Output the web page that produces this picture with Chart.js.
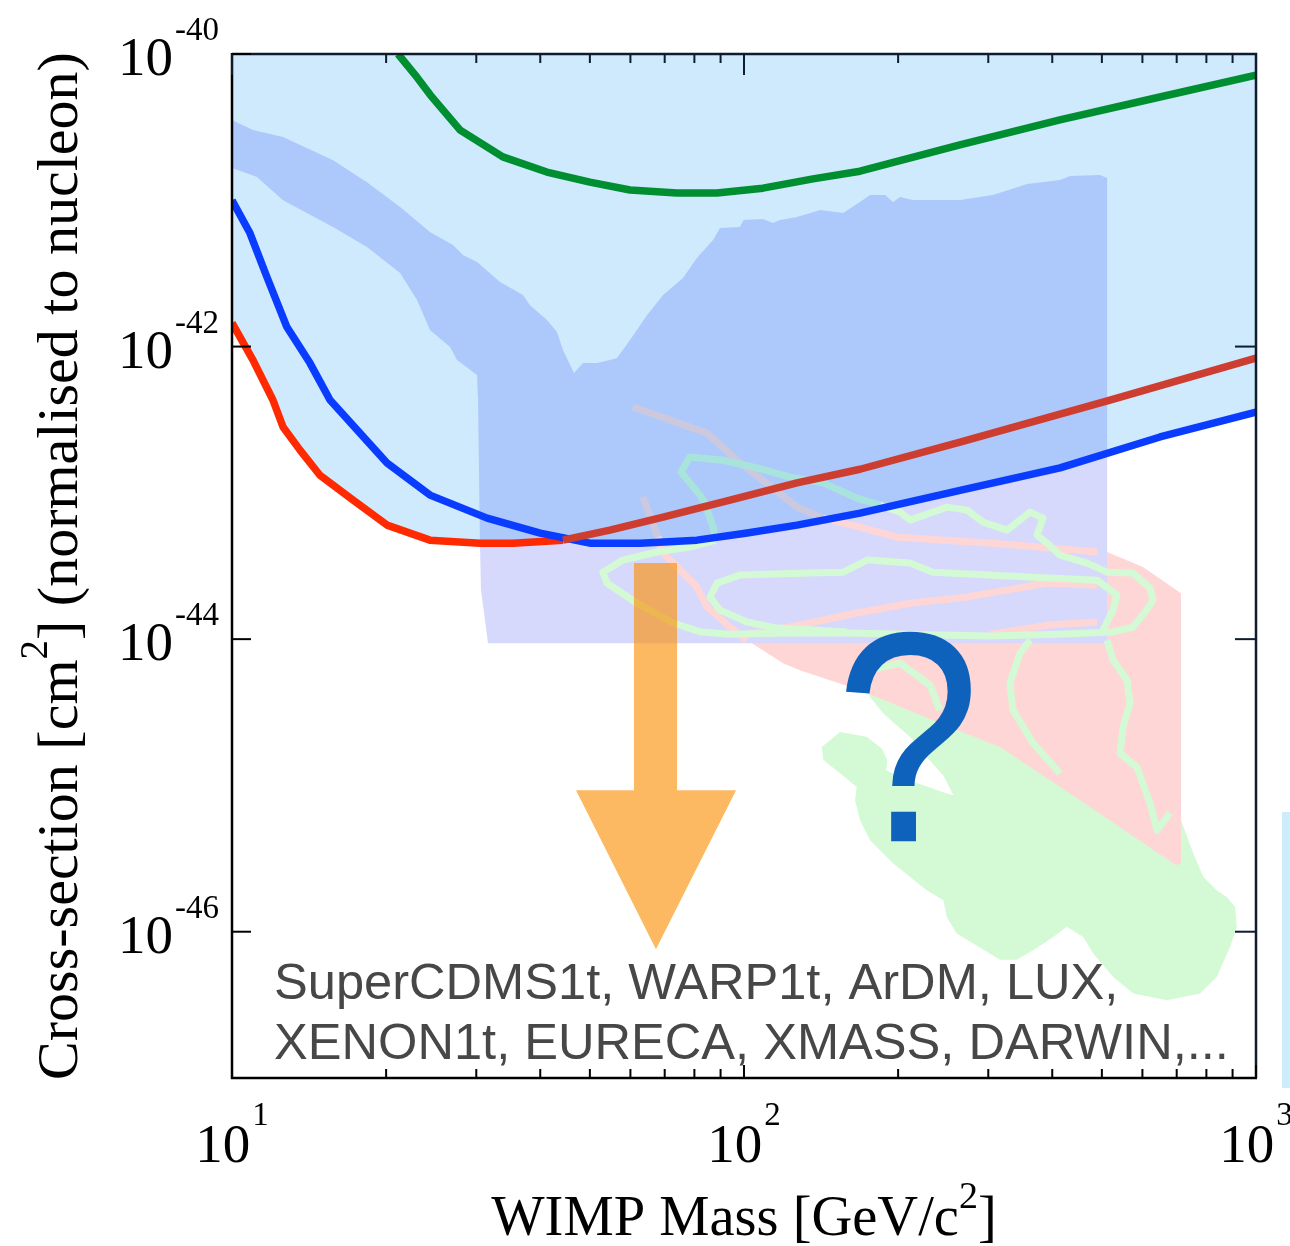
<!DOCTYPE html>
<html><head><meta charset="utf-8">
<script src="https://cdn.jsdelivr.net/npm/chart.js@4.4.1/dist/chart.umd.min.js"></script>
<style>
html,body{margin:0;padding:0;background:#fff;overflow:hidden}
#wrap{position:relative;width:1290px;height:1246px}
#strip{position:absolute;left:1282px;top:812px;width:8px;height:276px;background:#cdedfc}
</style></head>
<body><div id="wrap"><canvas id="c" width="1290" height="1246"></canvas><div id="strip"></div></div>
<script>
// ---------- tick labels ----------
const massTicks = [10, 100, 1000];
const massTickExp = ['1', '2', '3'];
const massMinorTicks = [20, 30, 40, 50, 60, 70, 80, 90, 200, 300, 400, 500, 600, 700, 800, 900];
const sigmaTicks = [1e-40, 1e-42, 1e-44, 1e-46];
const sigmaTickExp = ['-40', '-42', '-44', '-46'];

const X_TITLE = ['WIMP Mass [GeV/c', '2', ']'];
const Y_TITLE = ['Cross-section [cm', '2', '] (normalised to nucleon)'];
const EXPERIMENT_LINES = ['SuperCDMS1t, WARP1t, ArDM, LUX,', 'XENON1t, EURECA, XMASS, DARWIN,...'];
const QUESTION = '?';

// ---------- limit curves [mass GeV/c2, cross-section cm2] ----------
const greenLimit = [[21.1,1.0e-40],[22.8,7.18e-41],[24.4,5.24e-41],[27.9,3.02e-41],[33.8,1.98e-41],[41.2,1.56e-41],[50.0,1.33e-41],[59.9,1.175e-41],[74.0,1.12e-41],[88.5,1.12e-41],[108.9,1.21e-41],[136.4,1.40e-41],[168.5,1.58e-41],[264,2.39e-41],[414,3.54e-41],[649,5.08e-41],[1000,7.18e-41]];
const redLimitLow = [[10,1.45e-42],[10.99,8.08e-43],[12.02,4.31e-43],[12.58,2.82e-43],[13.58,1.96e-43],[14.85,1.32e-43],[17.23,8.92e-44],[20.08,6.02e-44],[24.36,4.75e-44],[30.5,4.53e-44],[35.4,4.53e-44],[44.3,4.75e-44]];
const redLimitHigh = [[44.3,4.75e-44],[54.7,5.56e-44],[69.5,6.83e-44],[93.9,8.92e-44],[126.9,1.17e-43],[168.5,1.45e-43],[264.2,2.22e-43],[518.6,4.31e-43],[1000,8.35e-43]];
const blueLimit = [[10,1.0e-41],[10.84,5.97e-42],[11.7,2.99e-42],[12.8,1.36e-42],[14.2,7.71e-43],[15.54,4.31e-43],[20.08,1.60e-43],[24.36,9.65e-44],[31.5,6.72e-44],[40.0,5.31e-44],[50.0,4.53e-44],[62.7,4.53e-44],[80.9,4.75e-44],[101.4,5.31e-44],[126.9,6.02e-44],[168.5,7.27e-44],[264.2,1.04e-43],[414.2,1.48e-43],[649.4,2.41e-43],[1000,3.57e-43]];

// ---------- signal / allowed region (blue) ----------
const damaTopEdge = [[10,3.54e-41],[10.99,3.02e-41],[12.58,2.71e-41],[15.75,1.88e-41],[18.35,1.33e-41],[21.3,8.99e-42],[24.36,6.07e-42],[27.02,4.94e-42],[28.26,4.22e-42],[30.1,3.78e-42],[33.38,2.76e-42],[37.02,2.25e-42],[38.19,1.92e-42],[41.23,1.52e-42],[43.13,1.26e-42],[44.3,9.47e-43],[46.56,6.59e-43],[48.48,7.71e-43],[51.64,7.71e-43],[54.7,8.08e-43],[56.49,8.35e-43],[59.9,1.11e-42],[64.64,1.64e-42],[69.5,2.25e-42],[76.0,2.94e-42],[80.9,4.03e-42],[87.0,5.35e-42],[89.8,6.46e-42],[98.2,6.57e-42],[99.8,7.33e-42],[108.9,7.45e-42],[113.9,6.99e-42],[117.6,7.33e-42],[126.9,7.68e-42],[140.8,8.58e-42],[156.2,8.18e-42],[168.5,9.73e-42],[176.3,1.086e-41],[188.6,1.086e-41],[195.5,9.73e-42],[201.7,1.052e-41],[213.8,1.004e-41],[264.2,1.004e-41],[306.4,1.086e-41],[357.1,1.291e-41],[414.2,1.375e-41],[433.2,1.464e-41],[495.8,1.488e-41]];
const damaRightEdge = [[512,1.42e-41],[512,1.87e-43],[512,9.39e-45]];
const damaBottomEdge = [[31.62,9.39e-45],[31.2,1.35e-44],[30.64,2.16e-44]];
const damaBandLower = [[30.24,4.31e-43],[30.1,6.39e-43],[27.51,8.08e-43],[26.66,9.92e-43],[24.36,1.30e-42],[22.98,2.08e-42],[21.3,3.18e-42],[18.35,4.79e-42],[15.75,6.57e-42],[12.58,1.0e-41],[11.19,1.44e-41],[10,1.66e-41]];

// ---------- pink region + outlines ----------
const pinkRegion = [[60.7,3.86e-43],[84.7,2.56e-43],[96.9,1.67e-43],[126.9,7.99e-44],[168.5,5.83e-44],[199.0,4.98e-44],[306.4,4.53e-44],[480.4,3.94e-44],[512,3.94e-44],[601.6,3.11e-44],[713.8,2.06e-44],[713.8,2.94e-46],[698.1,2.85e-46],[453.2,7.93e-46],[316.2,1.83e-45],[252.6,2.50e-45],[168.5,4.48e-45],[128.6,6.14e-45],[119.2,6.85e-45],[101.4,9.84e-45],[93.9,1.21e-44],[84.7,1.66e-44],[80.9,2.27e-44],[69.5,3.87e-44],[67.9,4.98e-44],[63.5,9.35e-44]];
const pinkLineUpperHidden = [[60.7,3.86e-43],[84.7,2.56e-43],[96.9,1.67e-43],[126.9,7.99e-44],[142.7,6.72e-44]];
const pinkLineUpper = [[142.7,6.72e-44],[168.5,5.83e-44],[199.0,4.98e-44],[306.4,4.53e-44],[489.2,3.94e-44]];
const pinkLineLowerHidden = [[63.5,9.35e-44],[67.9,4.98e-44]];
const pinkLineLower = [[67.9,4.98e-44],[69.5,3.87e-44],[80.9,2.27e-44],[84.7,1.66e-44],[93.9,1.21e-44],[101.4,9.84e-45]];
const pinkLineInner = [[99.5,1.07e-44],[123.0,1.21e-44],[166.2,1.51e-44],[210.9,1.76e-44],[272.6,1.94e-44],[390.8,2.42e-44],[489.2,2.34e-44]];
const pinkLineWedge = [[302.4,1.08e-44],[396.0,1.25e-44],[489.2,1.31e-44]];

// ---------- green region + contours ----------
const greenContourOuterHidden = [[88.1,4.75e-44],[87.0,5.83e-44],[83.9,8.51e-44],[82.1,9.65e-44],[75.3,1.39e-43],[78.4,1.76e-43],[91.0,1.67e-43],[106.0,1.48e-43],[123.0,1.28e-43],[142.7,1.17e-43],[166.2,9.21e-44],[184.4,8.25e-44]];
const greenContourOuter = [[184.4,8.25e-44],[201.7,7.39e-44],[210.9,6.51e-44],[249.2,7.99e-44],[272.6,7.62e-44],[293.1,6.31e-44],[326.5,5.56e-44],[362.0,7.39e-44],[383.7,6.72e-44],[373.5,5.14e-44],[390.8,4.53e-44],[414.2,3.75e-44],[467.7,3.31e-44],[512,2.87e-44],[575.2,2.83e-44],[620.9,2.23e-44],[629.3,1.85e-44],[607.1,1.53e-44],[575.2,1.21e-44],[525.6,1.12e-44],[414.2,1.08e-44],[302.4,1.05e-44],[158.9,1.10e-44],[123.0,1.10e-44],[93.9,1.08e-44],[82.1,1.12e-44],[72.7,1.29e-44],[61.8,1.76e-44],[54.0,2.42e-44],[53.0,2.87e-44],[58.0,3.47e-44],[67.6,3.94e-44],[78.4,4.26e-44],[88.1,4.75e-44]];
const greenContourInner = [[158.9,1.12e-44],[116.0,1.19e-44],[101.4,1.31e-44],[89.8,1.58e-44],[85.8,1.94e-44],[88.6,2.42e-44],[98.2,2.74e-44],[134.6,2.83e-44],[156.2,2.87e-44],[173.9,3.47e-44],[210.9,3.31e-44],[233.9,2.87e-44],[366.9,2.65e-44],[489.2,2.53e-44],[535.2,2.00e-44],[525.6,1.58e-44],[502.4,1.15e-44]];
const greenContourC = [[362.0,9.84e-45],[346.0,8.02e-45],[330.7,5.00e-45],[335.2,3.27e-45],[366.9,1.95e-45],[414.2,1.21e-45]];
const greenContourD = [[512,9.84e-45],[525.6,7.19e-45],[559.8,5.25e-45],[567.5,3.65e-45],[549.9,2.50e-45],[542.5,1.66e-45],[585.6,1.33e-45],[620.9,7.56e-46],[640.7,4.94e-46],[679.2,6.46e-46]];
const greenContourE = [[176.3,6.14e-45],[201.7,6.85e-45],[230.8,4.85e-45],[241.4,3.27e-45]];
const greenRegion = [[141.9,1.83e-45],[154.0,2.32e-45],[173.6,2.15e-45],[185.8,1.79e-45],[190.5,1.49e-45],[189.4,1.27e-45],[201.7,1.14e-45],[248.9,8.81e-46],[256.4,8.58e-46],[245.1,1.17e-45],[227.4,1.57e-45],[210.9,2.15e-45],[187.1,3.10e-45],[176.3,4.03e-45],[173.6,4.60e-45],[316.2,2.79e-45],[426.8,1.49e-45],[669.2,7.93e-46],[713.8,5.79e-46],[754.4,3.42e-46],[789.2,2.37e-46],[837.9,1.92e-46],[876.5,1.73e-46],[910.0,1.48e-46],[917.1,1.08e-46],[889.8,7.87e-47],[837.9,4.91e-47],[777.5,3.78e-47],[669.2,3.40e-47],[576.0,3.78e-47],[526.3,4.91e-47],[481.1,7.09e-47],[459.9,9.21e-47],[426.8,1.08e-46],[401.8,9.21e-47],[367.3,7.47e-47],[340.8,6.43e-47],[316.2,6.43e-47],[280.5,8.31e-47],[260.3,9.72e-47],[248.9,1.26e-46],[245.1,1.64e-46],[227.4,1.92e-46],[195.7,2.93e-46],[176.3,4.22e-46],[168.5,5.79e-46],[164.8,7.93e-46],[166.0,9.77e-46],[154.0,1.21e-45],[142.9,1.49e-45]];

// ---------- future-sensitivity arrow ----------
const arrowShape = [[60.97,3.31e-44],[74.0,3.31e-44],[74.0,9.28e-46],[96.5,9.28e-46],[67.3,7.59e-47],[46.98,9.28e-46],[60.97,9.28e-46]];

// ---------- annotation anchors (data coordinates) ----------
const questionAnchor = [209, 4.16e-46];
const experimentsAnchor = [12.08, 3.46e-47];

// ================= build =================
const toXY = arr => arr.map(p => ({x: p[0], y: p[1]}));
const envelope = redLimitLow.concat(blueLimit.filter(p => p[0] >= 50));
const envMid = envelope.filter(p => p[0] >= 30.5 && p[0] < 512);
const damaUpper = damaTopEdge.concat(damaRightEdge.slice(0, 2), envMid.slice().reverse(), damaBandLower);
const damaLower = envMid.concat(damaRightEdge.slice(1), damaBottomEdge);

const C = {
  lightBlue: '#cfe9fd', damaDark: '#adc9fc', damaLav: '#d6d8fc',
  pink: '#ffd6d6', pinkHidden: '#ccc9df', green: '#d3fad4', greenHidden: '#a8e4db',
  limitGreen: '#008f30', redBright: '#ff2a00', redDark: '#cd3e31', blue: '#0a3cff',
  arrow: 'rgba(252,142,0,0.62)', question: '#0f62bc', text: '#474747'
};

function poly(data, color) {
  return {data: toXY(data), fill: 'shape', backgroundColor: color, borderColor: 'rgba(0,0,0,0)', borderWidth: 0, pointRadius: 0, tension: 0, clip: 0};
}
function curve(data, color, width) {
  return {data: toXY(data), fill: false, borderColor: color, borderWidth: width, pointRadius: 0, tension: 0, borderJoinStyle: 'round', borderCapStyle: 'butt', clip: 0};
}

// bottom -> top
const layers = [
  Object.assign(curve(envelope, 'rgba(0,0,0,0)', 0), {fill: 'end', backgroundColor: C.lightBlue}),
  poly(greenRegion, C.green),
  poly(pinkRegion, C.pink),
  poly(damaUpper, C.damaDark),
  poly(damaLower, C.damaLav),
  curve(pinkLineUpperHidden, C.pinkHidden, 7),
  curve(pinkLineLowerHidden, C.pinkHidden, 7),
  curve(pinkLineUpper, C.pink, 7),
  curve(pinkLineLower, C.pink, 7),
  curve(pinkLineInner, C.pink, 7),
  curve(pinkLineWedge, C.pink, 7),
  curve(greenContourOuterHidden, C.greenHidden, 7),
  curve(greenContourOuter, C.green, 7),
  curve(greenContourInner, C.green, 7),
  curve(greenContourC, C.green, 7),
  curve(greenContourD, C.green, 7),
  curve(greenContourE, C.green, 7),
  curve(greenLimit, C.limitGreen, 7.5),
  curve(redLimitLow, C.redBright, 7.5),
  curve(blueLimit, C.blue, 7.5),
  curve(redLimitHigh, C.redDark, 7.5),
  poly(arrowShape, C.arrow)
];
layers.forEach((d, i) => { d.order = layers.length - i; });

const SERIF = '"Liberation Serif", "Times New Roman", serif';
const SANS = '"Liberation Sans", Arial, sans-serif';

function drawParts(ctx, parts, startX, baseY) {
  let x = startX;
  for (const p of parts) {
    ctx.font = p.size + 'px ' + p.family;
    ctx.fillText(p.t, x, baseY - (p.rise || 0));
    x += ctx.measureText(p.t).width;
  }
}
function partsWidth(ctx, parts) {
  let w = 0;
  for (const p of parts) { ctx.font = p.size + 'px ' + p.family; w += ctx.measureText(p.t).width; }
  return w;
}

const decor = {
  id: 'decor',
  afterDatasetsDraw(chart) {
    const {ctx, chartArea: a, scales: {x, y}} = chart;
    ctx.save();
    ctx.textAlign = 'left';
    ctx.textBaseline = 'alphabetic';

    // question mark
    ctx.save();
    ctx.fillStyle = C.question;
    ctx.font = '300px ' + SANS;
    ctx.textAlign = 'center';
    ctx.translate(x.getPixelForValue(questionAnchor[0]), y.getPixelForValue(questionAnchor[1]));
    ctx.scale(0.87, 1);
    ctx.fillText(QUESTION, 0, 0);
    ctx.restore();

    // experiments text
    ctx.textAlign = 'left';
    ctx.fillStyle = C.text;
    ctx.font = '50.6px ' + SANS;
    const tx = x.getPixelForValue(experimentsAnchor[0]);
    const ty = y.getPixelForValue(experimentsAnchor[1]);
    EXPERIMENT_LINES.forEach((t, i) => ctx.fillText(t, tx, ty + i * 60));

    // frame
    ctx.lineCap = 'butt';
    ctx.lineWidth = 2.5;
    ctx.strokeStyle = '#0d1d2e';
    ctx.beginPath();
    ctx.moveTo(a.left, a.top); ctx.lineTo(a.right, a.top); ctx.lineTo(a.right, a.bottom);
    ctx.stroke();
    ctx.strokeStyle = '#000';
    ctx.beginPath();
    ctx.moveTo(a.left, a.top - 1); ctx.lineTo(a.left, a.bottom); ctx.lineTo(a.right + 1, a.bottom);
    ctx.stroke();

    // ticks
    ctx.lineWidth = 2;
    const seg = (x1, y1, x2, y2, col) => { ctx.strokeStyle = col; ctx.beginPath(); ctx.moveTo(x1, y1); ctx.lineTo(x2, y2); ctx.stroke(); };
    sigmaTicks.forEach(v => {
      const py = y.getPixelForValue(v);
      seg(a.left, py, a.left + 19, py, '#000');
      seg(a.right - 21, py, a.right, py, '#0d1d2e');
    });
    massTicks.forEach(v => {
      const px = x.getPixelForValue(v);
      seg(px, a.bottom, px, a.bottom - 13, '#000');
      seg(px, a.top, px, a.top + 21, '#0d1d2e');
    });
    massMinorTicks.forEach(v => {
      const px = x.getPixelForValue(v);
      seg(px, a.bottom, px, a.bottom - 9, '#000');
      seg(px, a.top, px, a.top + 9, '#0d1d2e');
    });

    // tick labels
    ctx.fillStyle = '#000';
    sigmaTicks.forEach((v, i) => {
      const py = y.getPixelForValue(v);
      const exp = {t: sigmaTickExp[i], size: 33, family: SERIF};
      const base = {t: '10', size: 55, family: SERIF};
      const ew = partsWidth(ctx, [exp]);
      const bw = partsWidth(ctx, [base]);
      const R = a.left - 13;
      drawParts(ctx, [base], R - ew - bw - 2, py + 21);
      drawParts(ctx, [exp], R - ew, py - 14);
    });
    massTicks.forEach((v, i) => {
      const px = x.getPixelForValue(v);
      const base = {t: '10', size: 55, family: SERIF};
      const exp = {t: massTickExp[i], size: 33, family: SERIF};
      const bw = partsWidth(ctx, [base]);
      const ew = partsWidth(ctx, [exp]);
      const sx = px - (bw + ew + 2) / 2;
      drawParts(ctx, [base], sx, a.bottom + 84);
      drawParts(ctx, [exp], sx + bw + 2, a.bottom + 47);
    });

    // axis titles
    const xParts = [{t: X_TITLE[0], size: 56.5, family: SERIF}, {t: X_TITLE[1], size: 38, family: SERIF, rise: 27}, {t: X_TITLE[2], size: 56.5, family: SERIF}];
    const xw = partsWidth(ctx, xParts);
    drawParts(ctx, xParts, (a.left + a.right) / 2 - xw / 2, a.bottom + 157);

    const yParts = [{t: Y_TITLE[0], size: 58, family: SERIF}, {t: Y_TITLE[1], size: 39, family: SERIF, rise: 30}, {t: Y_TITLE[2], size: 58, family: SERIF}];
    const yw = partsWidth(ctx, yParts);
    ctx.save();
    ctx.translate(77, (a.top + a.bottom) / 2);
    ctx.rotate(-Math.PI / 2);
    drawParts(ctx, yParts, -yw / 2, 0);
    ctx.restore();

    ctx.restore();
  }
};

new Chart(document.getElementById('c'), {
  type: 'line',
  data: {datasets: layers},
  options: {
    responsive: false,
    animation: false,
    devicePixelRatio: 1,
    layout: {padding: {left: 232, top: 54, right: 34, bottom: 168}},
    plugins: {legend: {display: false}, tooltip: {enabled: false}, filler: {propagate: false}},
    elements: {point: {radius: 0, hitRadius: 0}},
    scales: {
      x: {type: 'logarithmic', min: 10, max: 1000, display: false},
      y: {type: 'logarithmic', min: 1e-47, max: 1e-40, display: false}
    }
  },
  plugins: [decor]
});
</script>
</body></html>
